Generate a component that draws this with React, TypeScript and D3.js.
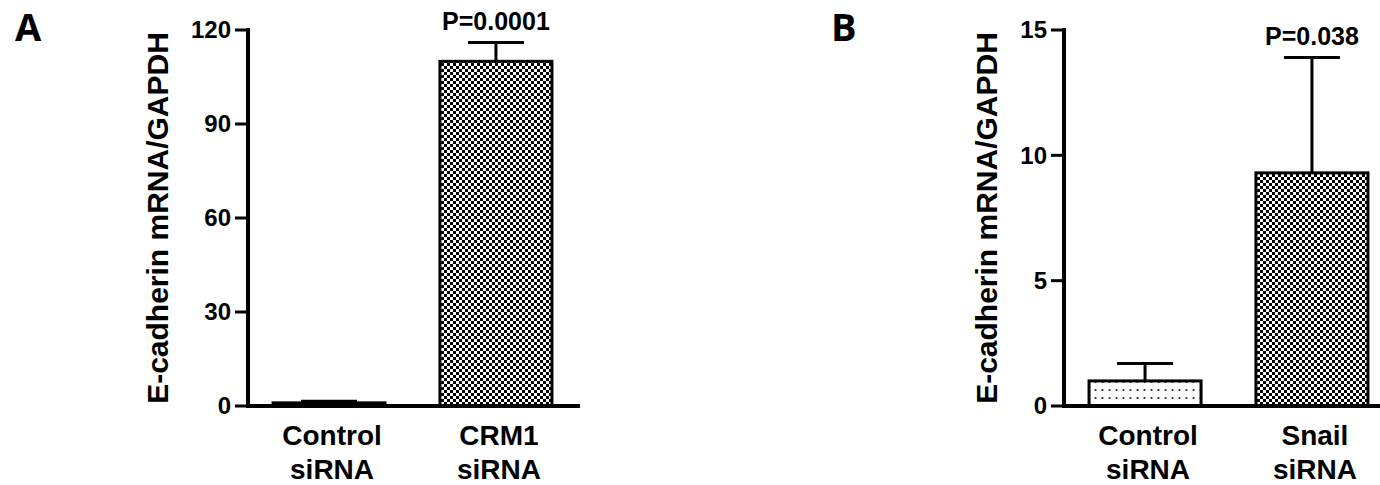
import React from "react";
import * as d3 from "d3";

// ---------- data ----------
const categoriesA = ["Control siRNA", "CRM1 siRNA"];
const valuesA = [1.0, 110];
const errorsA = [0.5, 6];
const ticksA = [0, 30, 60, 90, 120];
const pLabelA = "P=0.0001";

const categoriesB = ["Control siRNA", "Snail siRNA"];
const valuesB = [1.0, 9.3];
const errorsB = [0.7, 4.6];
const ticksB = [0, 5, 10, 15];
const pLabelB = "P=0.038";

const yTitle = "E-cadherin mRNA/GAPDH";

const FONT = "'Liberation Sans', Arial, Helvetica, sans-serif";
const LETTER_FONT = "'Open Sans', 'DejaVu Sans', sans-serif";

type PanelProps = {
  ox: number;
  letter: string;
  categories: string[];
  values: number[];
  errors: number[];
  ticks: number[];
  pLabel: string;
  fills: string[];
};

function Panel({ ox, letter, categories, values, errors, ticks, pLabel, fills }: PanelProps) {
  const axisX = ox + 248;
  const yMax = ticks[ticks.length - 1];
  const y = d3.scaleLinear().domain([0, yMax]).range([406, 30]);
  const x = d3
    .scaleBand<string>()
    .domain(categories)
    .range([axisX, axisX + 329])
    .paddingInner(0.329)
    .paddingOuter(0.15);
  const bw = x.bandwidth();
  const tickLen = 13;
  const maxDigits = d3.max(ticks, (t) => String(t).length) || 1;
  const labelW = maxDigits * 0.556 * 24;
  const titleX = axisX - tickLen - 5 - labelW - 22;
  const last = categories.length - 1;
  const pTop = y(values[last] + errors[last]) - 13;

  return (
    <g>
      <text x={ox + 15} y={41} fontFamily={LETTER_FONT} fontWeight={700} fontSize={38}>
        {letter}
      </text>
      {/* y title */}
      <text
        transform={`translate(${titleX},${(y(0) + y(yMax)) / 2}) rotate(-90)`}
        textAnchor="middle"
        fontFamily={FONT}
        fontWeight={700}
        fontSize={30}
      >
        {yTitle}
      </text>
      {/* bars */}
      {categories.map((c, i) => {
        const x0 = x(c) as number;
        const top = y(values[i]);
        const et = y(values[i] + errors[i]);
        const cx = x0 + bw / 2;
        return (
          <g key={c}>
            <line x1={cx} x2={cx} y1={top} y2={et} stroke="#000" strokeWidth={3} />
            <line x1={cx - bw / 4} x2={cx + bw / 4} y1={et} y2={et} stroke="#000" strokeWidth={3} />
            <rect
              x={x0}
              y={top}
              width={bw}
              height={y(0) - top}
              fill={fills[i]}
              stroke="#000"
              strokeWidth={3}
            />
          </g>
        );
      })}
      {/* y axis */}
      <line x1={axisX} x2={axisX} y1={y(yMax) - 2} y2={y(0) + 2} stroke="#000" strokeWidth={4} />
      {ticks.map((t) => (
        <g key={t}>
          <line x1={axisX - tickLen} x2={axisX} y1={y(t)} y2={y(t)} stroke="#000" strokeWidth={3} />
          <text
            x={axisX - tickLen - 4}
            y={y(t)}
            dy="0.35em"
            textAnchor="end"
            fontFamily={FONT}
            fontWeight={700}
            fontSize={24}
          >
            {t}
          </text>
        </g>
      ))}
      {/* x axis */}
      <line x1={axisX - 2} x2={axisX + 332} y1={y(0)} y2={y(0)} stroke="#000" strokeWidth={4} />
      {categories.map((c) => {
        const cx = (x(c) as number) + bw / 2 + 3;
        const parts = c.split(" ");
        return (
          <text key={c} textAnchor="middle" fontFamily={FONT} fontWeight={700} fontSize={28}>
            <tspan x={cx} y={445}>{parts[0]}</tspan>
            <tspan x={cx} y={479}>{parts[1]}</tspan>
          </text>
        );
      })}
      {/* p value */}
      <text
        x={(x(categories[last]) as number) + bw / 2}
        y={pTop}
        textAnchor="middle"
        fontFamily={FONT}
        fontWeight={700}
        fontSize={25}
      >
        {pLabel}
      </text>
    </g>
  );
}

export default function App() {
  return (
    <svg
      width={1380}
      height={485}
      viewBox="0 0 1380 485"
      style={{ position: "absolute", left: 0, top: 0, background: "#fff" }}
    >
      <defs>
        <pattern id="checker" patternUnits="userSpaceOnUse" width={6} height={6}>
          <rect width={6} height={6} fill="#fff" />
          <rect x={0} y={0} width={3} height={3} fill="#000" />
          <rect x={3} y={3} width={3} height={3} fill="#000" />
        </pattern>
        <pattern id="dots" patternUnits="userSpaceOnUse" width={7} height={8}>
          <rect width={7} height={8} fill="#fff" />
          <circle cx={3.5} cy={6} r={1.1} fill="#222" />
        </pattern>
      </defs>
      <rect width={1380} height={485} fill="#fff" />
      <Panel
        ox={0}
        letter="A"
        categories={categoriesA}
        values={valuesA}
        errors={errorsA}
        ticks={ticksA}
        pLabel={pLabelA}
        fills={["url(#dots)", "url(#checker)"]}
      />
      <Panel
        ox={816}
        letter="B"
        categories={categoriesB}
        values={valuesB}
        errors={errorsB}
        ticks={ticksB}
        pLabel={pLabelB}
        fills={["url(#dots)", "url(#checker)"]}
      />
    </svg>
  );
}
